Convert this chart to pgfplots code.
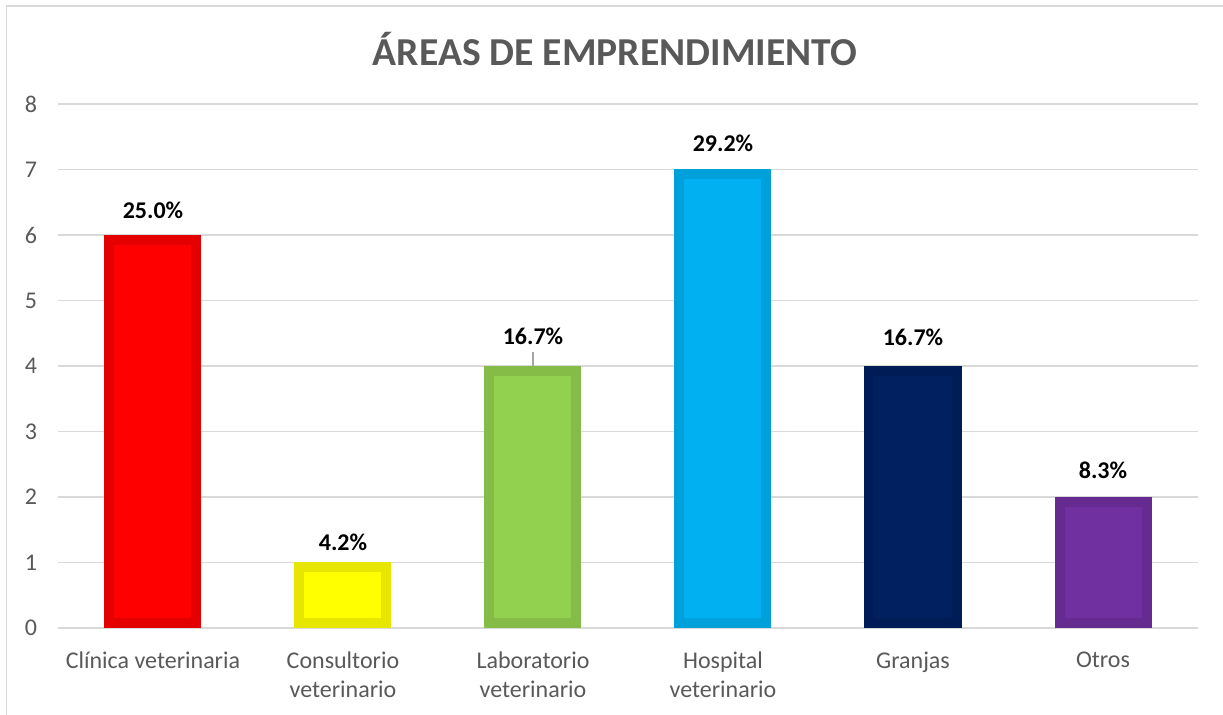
\documentclass[border=0pt]{standalone}
\usepackage{fontspec}
\setmainfont{Carlito}
\usepackage{pgfplots}
\pgfplotsset{compat=1.18}
\definecolor{txtgray}{HTML}{595959}
\definecolor{gridgray}{HTML}{D9D9D9}
\definecolor{redF}{HTML}{FF0000}\definecolor{redB}{HTML}{E40000}
\definecolor{yelF}{HTML}{FFFF00}\definecolor{yelB}{HTML}{E6E600}
\definecolor{grnF}{HTML}{92D050}\definecolor{grnB}{HTML}{84BC47}
\definecolor{bluF}{HTML}{00B0F0}\definecolor{bluB}{HTML}{00A0DA}
\definecolor{navF}{HTML}{002060}\definecolor{navB}{HTML}{001C56}
\definecolor{purF}{HTML}{7030A0}\definecolor{purB}{HTML}{652B90}
\pgfplotsset{
  mybar/.style n args={3}{ybar, bar width=43.5pt, bar shift=0pt,
    fill=#1, draw=#2, line width=5pt, line join=miter,
    yshift=2.5pt, y filter/.expression={y-0.15267},
    nodes near coords, point meta=explicit symbolic,
    every node near coord/.append style={anchor=center, yshift=#3, text=black,
      font=\fontsize{12}{14.5}\selectfont\bfseries}},
}
\begin{document}
\begin{tikzpicture}[x=1pt,y=1pt]
\useasboundingbox (0,0) rectangle (611.5,357.5);
\draw[gridgray, line width=0.85pt] (3.2,0) -- (3.2,354.6) -- (611.5,354.6);
\node[font=\fontsize{19.8}{24}\selectfont\bfseries, text=txtgray] at (307.5,333) {ÁREAS DE EMPRENDIMIENTO};
\begin{axis}[
  at={(29pt,43.5pt)}, anchor=south west,
  scale only axis, width=570pt, height=262pt,
  xmin=-0.5, xmax=5.5, ymin=0, ymax=8,
  xtick={0,...,5},
  xticklabels={Clínica veterinaria, Consultorio\\veterinario, Laboratorio\\veterinario, Hospital\\veterinario, Granjas, Otros},
  ytick={0,...,8},
  axis line style={draw=none},
  major tick length=0pt,
  ymajorgrids, grid style={gridgray, line width=0.75pt},
  tick label style={font=\fontsize{12}{14.5}\selectfont, text=txtgray},
  xticklabel style={align=center, anchor=north, yshift=-8.5pt},
  yticklabel style={anchor=east, xshift=-7pt},
  /pgf/number format/assume math mode=true,
  clip=false,
]
\addplot[mybar={redF}{redB}{14.9pt}] coordinates {(0,6) [25.0\%]};
\addplot[mybar={yelF}{yelB}{12.5pt}] coordinates {(1,1) [4.2\%]};
\addplot[mybar={grnF}{grnB}{17.35pt}] coordinates {(2,4) [16.7\%]};
\addplot[mybar={bluF}{bluB}{15.5pt}] coordinates {(3,7) [29.2\%]};
\addplot[mybar={navF}{navB}{17pt}] coordinates {(4,4) [16.7\%]};
\addplot[mybar={purF}{purB}{15.6pt}] coordinates {(5,2) [8.3\%]};
\draw[color=black!35, line width=0.6pt] (axis cs:2,4) -- ([yshift=7pt]axis cs:2,4);
\end{axis}
\end{tikzpicture}
\end{document}
